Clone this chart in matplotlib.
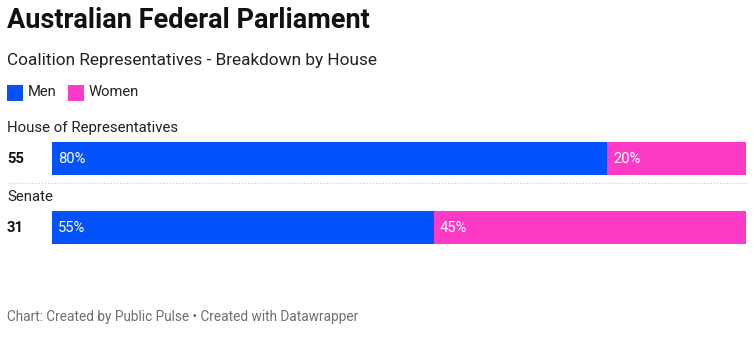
import matplotlib
matplotlib.use("Agg")
import matplotlib.pyplot as plt
from matplotlib.lines import Line2D
from matplotlib.patches import Rectangle

plt.rcParams['font.family'] = ['Roboto', 'DejaVu Sans']

title = "Australian Federal Parliament"
subtitle = "Coalition Representatives - Breakdown by House"
footer = "Chart: Created by Public Pulse \u2022 Created with Datawrapper"
houses = ["House of Representatives", "Senate"]
totals = [55, 31]
men_pct = [80, 55]
women_pct = [20, 45]
series_names = ["Men", "Women"]
colors = ["#0452fb", "#fd3ac6"]

W, H = 754, 341
fig = plt.figure(figsize=(W / 100, H / 100), dpi=100)

def fx(x):
    return x / W

def fy(y):
    return 1 - y / H

# Title / subtitle
fig.text(fx(7), fy(20), title, fontsize=19.5, fontweight='bold', va='center', ha='left', color='#111111')
fig.text(fx(7), fy(60), subtitle, fontsize=12.4, va='center', ha='left', color='#222222')

# Legend
lx = 7
for name, c in zip(series_names, colors):
    fig.add_artist(Rectangle((fx(lx), fy(101)), 16 / W, 16 / H, transform=fig.transFigure,
                             facecolor=c, edgecolor='none'))
    fig.text(fx(lx + 21), fy(92.5), name, fontsize=10.6, va='center', ha='left', color='#222222')
    lx = 68

# Axes for bars
bar_h = 33 / 69
top_px, bot_px = 142, 244
ax = fig.add_axes([fx(52), fy(bot_px), fx(746) - fx(52), (bot_px - top_px) / H])
ypos = list(range(len(houses)))
ax.barh(ypos, men_pct, height=bar_h, color=colors[0], edgecolor='none')
ax.barh(ypos, women_pct, left=men_pct, height=bar_h, color=colors[1], edgecolor='none')
ax.set_xlim(0, 100)
ax.set_ylim(len(houses) - 1 + bar_h / 2, -bar_h / 2)
ax.axis('off')

for i, (m, w) in enumerate(zip(men_pct, women_pct)):
    ax.annotate(f"{m}%", (0, i), xytext=(4.5, 0), textcoords='offset points',
                color='white', fontsize=10.6, va='center', ha='left')
    ax.annotate(f"{w}%", (m, i), xytext=(4.5, 0), textcoords='offset points',
                color='white', fontsize=10.6, va='center', ha='left')
    # total label
    ax.annotate(str(totals[i]), (0, i), xytext=(-45 * 72 / 100, 0), textcoords='offset points',
                color='#111111', fontsize=10.6, fontweight='bold', va='center', ha='left',
                annotation_clip=False)
    # house label above bar
    ax.annotate(houses[i], (0, i), xytext=(-45 * 72 / 100, 31 * 72 / 100), textcoords='offset points',
                color='#222222', fontsize=10.8, va='center', ha='left', annotation_clip=False)

# dotted separator
fig.add_artist(Line2D([fx(7), fx(746)], [fy(182.5), fy(182.5)], transform=fig.transFigure,
                      color='#d0d0d0', linewidth=0.9, linestyle=(0, (1, 1.5))))

# Footer
fig.text(fx(7), fy(317), footer, fontsize=9.8, va='center', ha='left', color='#6f6f6f')

fig.savefig("out.png", dpi=100, facecolor='white')
